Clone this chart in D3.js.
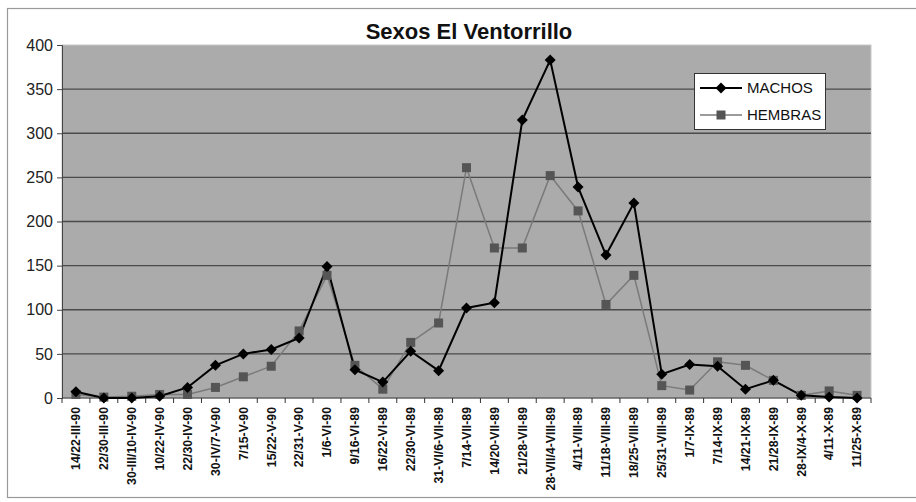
<!DOCTYPE html>
<html lang="es">
<head>
<meta charset="utf-8">
<title>Sexos El Ventorrillo</title>
<script src="https://cdn.jsdelivr.net/npm/d3@7"></script>
<style>
  body { margin: 0; background: #fff; }
  svg { display: block; }
</style>
</head>
<body>
<script>
var categories = ["14/22-III-90", "22/30-III-90", "30-III/10-IV-90", "10/22-IV-90", "22/30-IV-90",
  "30-IV/7-V-90", "7/15-V-90", "15/22-V-90", "22/31-V-90", "1/6-VI-90", "9/16-VI-89", "16/22-VI-89",
  "22/30-VI-89", "31-VI/6-VII-89", "7/14-VII-89", "14/20-VII-89", "21/28-VII-89", "28-VII/4-VIII-89",
  "4/11-VIII-89", "11/18-VIII-89", "18/25-VIII-89", "25/31-VIII-89", "1/7-IX-89", "7/14-IX-89",
  "14/21-IX-89", "21/28-IX-89", "28-IX/4-X-89", "4/11-X-89", "11/25-X-89"];
var machos = [7, 0, 0, 2, 12, 37, 50, 55, 68, 149, 32, 18, 53, 31, 102, 108, 315, 383,
  239, 162, 221, 27, 38, 36, 10, 20, 3, 1, 0];
var hembras = [4, 1, 2, 4, 4, 12, 24, 36, 76, 139, 37, 10, 63, 85, 261, 170, 170, 252,
  212, 106, 139, 14, 9, 41, 37, 20, 3, 8, 3];
var yTicks = [0, 50, 100, 150, 200, 250, 300, 350, 400];
var seriesNames = ["MACHOS", "HEMBRAS"];

var w = 916, h = 502;
var pLeft = 62, pRight = 871, pTop = 45, pBottom = 398;

var svg = d3.select("body").append("svg")
  .attr("width", w)
  .attr("height", h);

// outer frame
svg.append("rect")
  .attr("x", 7.5).attr("y", 8.5)
  .attr("width", 920).attr("height", 489)
  .attr("fill", "#fff")
  .attr("stroke", "#999")
  .attr("stroke-width", 1.2);

var x = d3.scaleBand().domain(categories).range([pLeft, pRight]);
var y = d3.scaleLinear().domain([0, 400]).range([pBottom, pTop]);

// plot area
svg.append("rect")
  .attr("x", pLeft).attr("y", pTop)
  .attr("width", pRight - pLeft).attr("height", pBottom - pTop)
  .attr("fill", "#ababab")
  .attr("stroke", "#c8c8c8");

// gridlines
svg.selectAll(".grid")
  .data(yTicks.filter(function(d) { return d > 0 && d < 400; }))
  .enter()
  .append("line")
  .attr("x1", pLeft).attr("x2", pRight)
  .attr("y1", function(d) { return y(d); })
  .attr("y2", function(d) { return y(d); })
  .attr("stroke", "#4a4a4a")
  .attr("stroke-width", 1.3);

// y axis
var yAxis = svg.append("g")
  .attr("transform", "translate(" + pLeft + ",0)")
  .call(d3.axisLeft(y).tickValues(yTicks).tickSize(5).tickPadding(4));
yAxis.select(".domain").attr("stroke", "#444");
yAxis.selectAll(".tick line").attr("stroke", "#444");
yAxis.selectAll("text")
  .attr("font-family", "Liberation Sans, Arial, sans-serif")
  .attr("font-size", "16px")
  .attr("fill", "#222");

// x axis line
svg.append("line")
  .attr("x1", pLeft).attr("x2", pRight)
  .attr("y1", pBottom).attr("y2", pBottom)
  .attr("stroke", "#333")
  .attr("stroke-width", 1.2);

// x ticks at category boundaries
svg.selectAll(".xtick")
  .data(categories.concat(["end"]))
  .enter()
  .append("line")
  .attr("x1", function(d, i) { return pLeft + i * x.step(); })
  .attr("x2", function(d, i) { return pLeft + i * x.step(); })
  .attr("y1", pBottom).attr("y2", pBottom + 5)
  .attr("stroke", "#333");

// x labels
svg.selectAll(".xlabel")
  .data(categories)
  .enter()
  .append("text")
  .attr("transform", function(d) {
    return "translate(" + (x(d) + x.bandwidth() / 2) + "," + (pBottom + 9) + ") rotate(-90)";
  })
  .attr("dy", "0.35em")
  .attr("text-anchor", "end")
  .attr("font-family", "Liberation Sans Narrow, Liberation Sans, Arial, sans-serif")
  .attr("font-weight", "bold")
  .attr("font-size", "12.3px")
  .attr("fill", "#111")
  .text(function(d) { return d; });

// lines
var cx = function(d, i) { return x(categories[i]) + x.bandwidth() / 2; };
var line = d3.line()
  .x(cx)
  .y(function(d) { return y(d); });

svg.append("path")
  .datum(hembras)
  .attr("d", line)
  .attr("fill", "none")
  .attr("stroke", "#7a7a7a")
  .attr("stroke-width", 1.5);

svg.append("path")
  .datum(machos)
  .attr("d", line)
  .attr("fill", "none")
  .attr("stroke", "#000")
  .attr("stroke-width", 2);

// markers
svg.selectAll(".hem")
  .data(hembras)
  .enter()
  .append("rect")
  .attr("x", function(d, i) { return cx(d, i) - 4.5; })
  .attr("y", function(d) { return y(d) - 4.5; })
  .attr("width", 9).attr("height", 9)
  .attr("fill", "#555");

svg.selectAll(".mac")
  .data(machos)
  .enter()
  .append("path")
  .attr("d", "M0,-5.5L5.5,0L0,5.5L-5.5,0Z")
  .attr("transform", function(d, i) { return "translate(" + cx(d, i) + "," + y(d) + ")"; })
  .attr("fill", "#000");

// title
svg.append("text")
  .attr("x", 469).attr("y", 39)
  .attr("text-anchor", "middle")
  .attr("font-family", "Liberation Sans, Arial, sans-serif")
  .attr("font-weight", "bold")
  .attr("font-size", "22px")
  .attr("fill", "#111")
  .text("Sexos El Ventorrillo");

// legend
var lg = svg.append("g").attr("transform", "translate(694,73)");
lg.append("rect")
  .attr("x", 0.5).attr("y", 0.5)
  .attr("width", 131).attr("height", 56)
  .attr("fill", "#fff")
  .attr("stroke", "#333");

var rows = lg.selectAll(".row")
  .data(seriesNames)
  .enter()
  .append("g")
  .attr("transform", function(d, i) { return "translate(0," + (15 + i * 27) + ")"; });

rows.append("line")
  .attr("x1", 6).attr("x2", 48)
  .attr("y1", 0).attr("y2", 0)
  .attr("stroke", function(d, i) { return i == 0 ? "#000" : "#7a7a7a"; })
  .attr("stroke-width", function(d, i) { return i == 0 ? 2 : 1.5; });

rows.append("path")
  .attr("d", function(d, i) {
    return i == 0 ? "M27,-5.5L32.5,0L27,5.5L21.5,0Z" : "M22.5,-4.5h9v9h-9Z";
  })
  .attr("fill", function(d, i) { return i == 0 ? "#000" : "#555"; });

rows.append("text")
  .attr("x", 53).attr("y", 0)
  .attr("dy", "0.35em")
  .attr("font-family", "Liberation Sans, Arial, sans-serif")
  .attr("font-size", "15px")
  .attr("fill", "#111")
  .text(function(d) { return d; });
</script>
</body>
</html>
